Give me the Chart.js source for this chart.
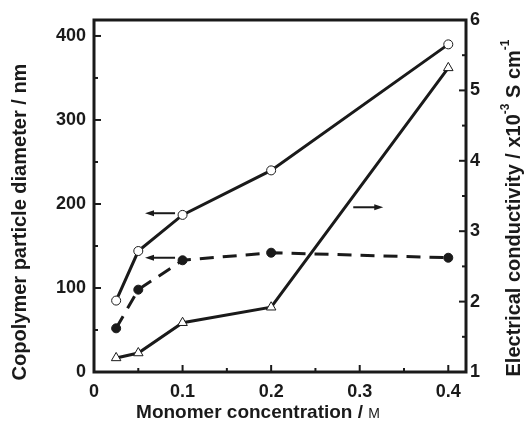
<!DOCTYPE html>
<html><head><meta charset="utf-8">
<script src="https://cdn.jsdelivr.net/npm/chart.js@4.4.1/dist/chart.umd.min.js"></script>
<style>html,body{margin:0;padding:0;background:#fff}</style>
</head><body>
<canvas id="c" width="528" height="425" style="width:528px;height:425px;display:block"></canvas>
<script>
// ---- data ----
const concentrations = [0.025, 0.05, 0.1, 0.2, 0.4];          // M
const diameterOpen   = [85, 144, 187, 240, 390];             // nm (left axis, open circles)
const diameterFilled = [52, 98, 133, 142, 136];              // nm (left axis, filled circles)
const conductivity   = [1.20, 1.27, 1.70, 1.92, 5.32];       // x10^-3 S cm^-1 (right axis, triangles)
const xTickLabels  = ['0', '0.1', '0.2', '0.3', '0.4'];
const yTickLabels  = ['0', '100', '200', '300', '400'];
const y1TickLabels = ['1', '2', '3', '4', '5', '6'];
// arrows pointing to the axis each series belongs to (data coordinates)
const arrows = [
  {from: 0.0915, to: 0.0576, at: 189, axis: 'y'},
  {from: 0.0915, to: 0.0576, at: 136, axis: 'y'},
  {from: 0.2927, to: 0.3266, at: 3.34, axis: 'y1'}
];

const FONT = "'Liberation Sans', Arial, sans-serif";
const INK = '#1a1a1a';

function pts(ys){ return concentrations.map((x,i)=>({x, y: ys[i]})); }

const framePlugin = {
  id: 'frame',
  afterDatasetsDraw(chart){
    const {ctx, chartArea: a, scales} = chart;
    ctx.save();
    ctx.strokeStyle = INK;
    // arrows
    ctx.lineWidth = 2;
    arrows.forEach(ar => {
      const y = scales[ar.axis].getPixelForValue(ar.at);
      const x1 = scales.x.getPixelForValue(ar.from);
      const x2 = scales.x.getPixelForValue(ar.to);
      const dir = Math.sign(x2 - x1);
      ctx.beginPath(); ctx.moveTo(x1, y); ctx.lineTo(x2 - dir*6, y); ctx.stroke();
      ctx.fillStyle = INK;
      ctx.beginPath(); ctx.moveTo(x2, y); ctx.lineTo(x2 - dir*9, y - 3); ctx.lineTo(x2 - dir*9, y + 3); ctx.closePath(); ctx.fill();
    });
    // frame
    ctx.lineWidth = 3;
    ctx.strokeRect(a.left, a.top, a.right - a.left, a.bottom - a.top);
    // inward ticks
    ctx.lineWidth = 2;
    const major = 7, minor = 4;
    scales.x.ticks.forEach(t => {
      if (t.value > 0.4 + 1e-9) return;
      const x = scales.x.getPixelForValue(t.value);
      const len = t.label ? major : minor;
      ctx.beginPath(); ctx.moveTo(x, a.bottom); ctx.lineTo(x, a.bottom - len); ctx.stroke();
    });
    scales.y.ticks.forEach(t => {
      const y = scales.y.getPixelForValue(t.value);
      const len = t.label ? major : minor;
      ctx.beginPath(); ctx.moveTo(a.left, y); ctx.lineTo(a.left + len, y); ctx.stroke();
    });
    scales.y1.ticks.forEach(t => {
      const y = scales.y1.getPixelForValue(t.value);
      const len = t.label ? major : minor;
      ctx.beginPath(); ctx.moveTo(a.right, y); ctx.lineTo(a.right - len, y); ctx.stroke();
    });
    ctx.restore();
  },
  afterDraw(chart){
    const {ctx} = chart;
    ctx.save();
    ctx.fillStyle = INK;
    ctx.textBaseline = 'middle';
    function rich(segs, cx, cy, rot){
      ctx.save();
      ctx.translate(cx, cy); ctx.rotate(rot);
      let w = 0;
      segs.forEach(s => { ctx.font = s.font; s.w = ctx.measureText(s.t).width; w += s.w; });
      let x = -w/2;
      segs.forEach(s => { ctx.font = s.font; ctx.textAlign = 'left'; ctx.fillText(s.t, x, s.dy || 0); x += s.w; });
      ctx.restore();
    }
    const T = "bold 20px " + FONT;
    rich([{t:'Copolymer particle diameter / nm', font:T}], 20, 222, -Math.PI/2);
    rich([{t:'Electrical conductivity / x10', font:T},
          {t:'-3', font:"bold 12px " + FONT, dy:-8},
          {t:' S cm', font:T},
          {t:'-1', font:"bold 12px " + FONT, dy:-8}], 514, 208, -Math.PI/2);
    rich([{t:'Monomer concentration / ', font:"bold 19px " + FONT},
          {t:'M', font:"14px " + FONT, dy:1}], 258, 413, 0);
    ctx.restore();
  }
};

const tickFont = {family: FONT, size: 18, weight: 'bold'};

new Chart(document.getElementById('c'), {
  type: 'line',
  data: {
    datasets: [
      {label: 'Particle diameter (open)', data: pts(diameterOpen), yAxisID: 'y',
       borderColor: INK, borderWidth: 3, pointStyle: 'circle', pointRadius: 4.5,
       pointBackgroundColor: '#fff', pointBorderColor: INK, pointBorderWidth: 1},
      {label: 'Particle diameter (filled)', data: pts(diameterFilled), yAxisID: 'y',
       borderColor: INK, borderWidth: 3, borderDash: [14, 9], pointStyle: 'circle', pointRadius: 4.5,
       pointBackgroundColor: INK, pointBorderColor: INK, pointBorderWidth: 1},
      {label: 'Electrical conductivity', data: pts(conductivity), yAxisID: 'y1',
       borderColor: INK, borderWidth: 3, pointStyle: 'triangle', pointRadius: 5.5,
       pointBackgroundColor: '#fff', pointBorderColor: INK, pointBorderWidth: 1}
    ]
  },
  options: {
    responsive: false, animation: false, devicePixelRatio: 1,
    layout: {padding: {top: 20, left: 0, right: 0, bottom: 0}},
    plugins: {legend: {display: false}, tooltip: {enabled: false}},
    scales: {
      x: {type: 'linear', min: 0, max: 0.42,
          grid: {display: false, drawTicks: false}, border: {display: false},
          ticks: {stepSize: 0.05, includeBounds: false, autoSkip: false, maxRotation: 0, padding: 9,
                  color: INK, font: tickFont,
                  callback: v => { const i = Math.round(v*10); return Math.abs(v*10 - i) < 1e-6 && i < xTickLabels.length ? xTickLabels[i] : ''; }},
          afterFit: s => { s.height = 53; }},
      y: {type: 'linear', position: 'left', min: 0, max: 419,
          grid: {display: false, drawTicks: false}, border: {display: false},
          ticks: {stepSize: 50, includeBounds: false, autoSkip: false, padding: 8, color: INK, font: tickFont,
                  callback: v => v % 100 === 0 ? yTickLabels[v/100] : ''},
          afterFit: s => { s.width = 94; }},
      y1: {type: 'linear', position: 'right', min: 1, max: 6,
          grid: {display: false, drawTicks: false}, border: {display: false},
          ticks: {stepSize: 0.5, includeBounds: false, autoSkip: false, padding: 4, color: INK, font: tickFont,
                  callback: v => Number.isInteger(v) ? y1TickLabels[v-1] : ''},
          afterFit: s => { s.width = 62; }}
    }
  },
  plugins: [framePlugin]
});
</script>
</body></html>
